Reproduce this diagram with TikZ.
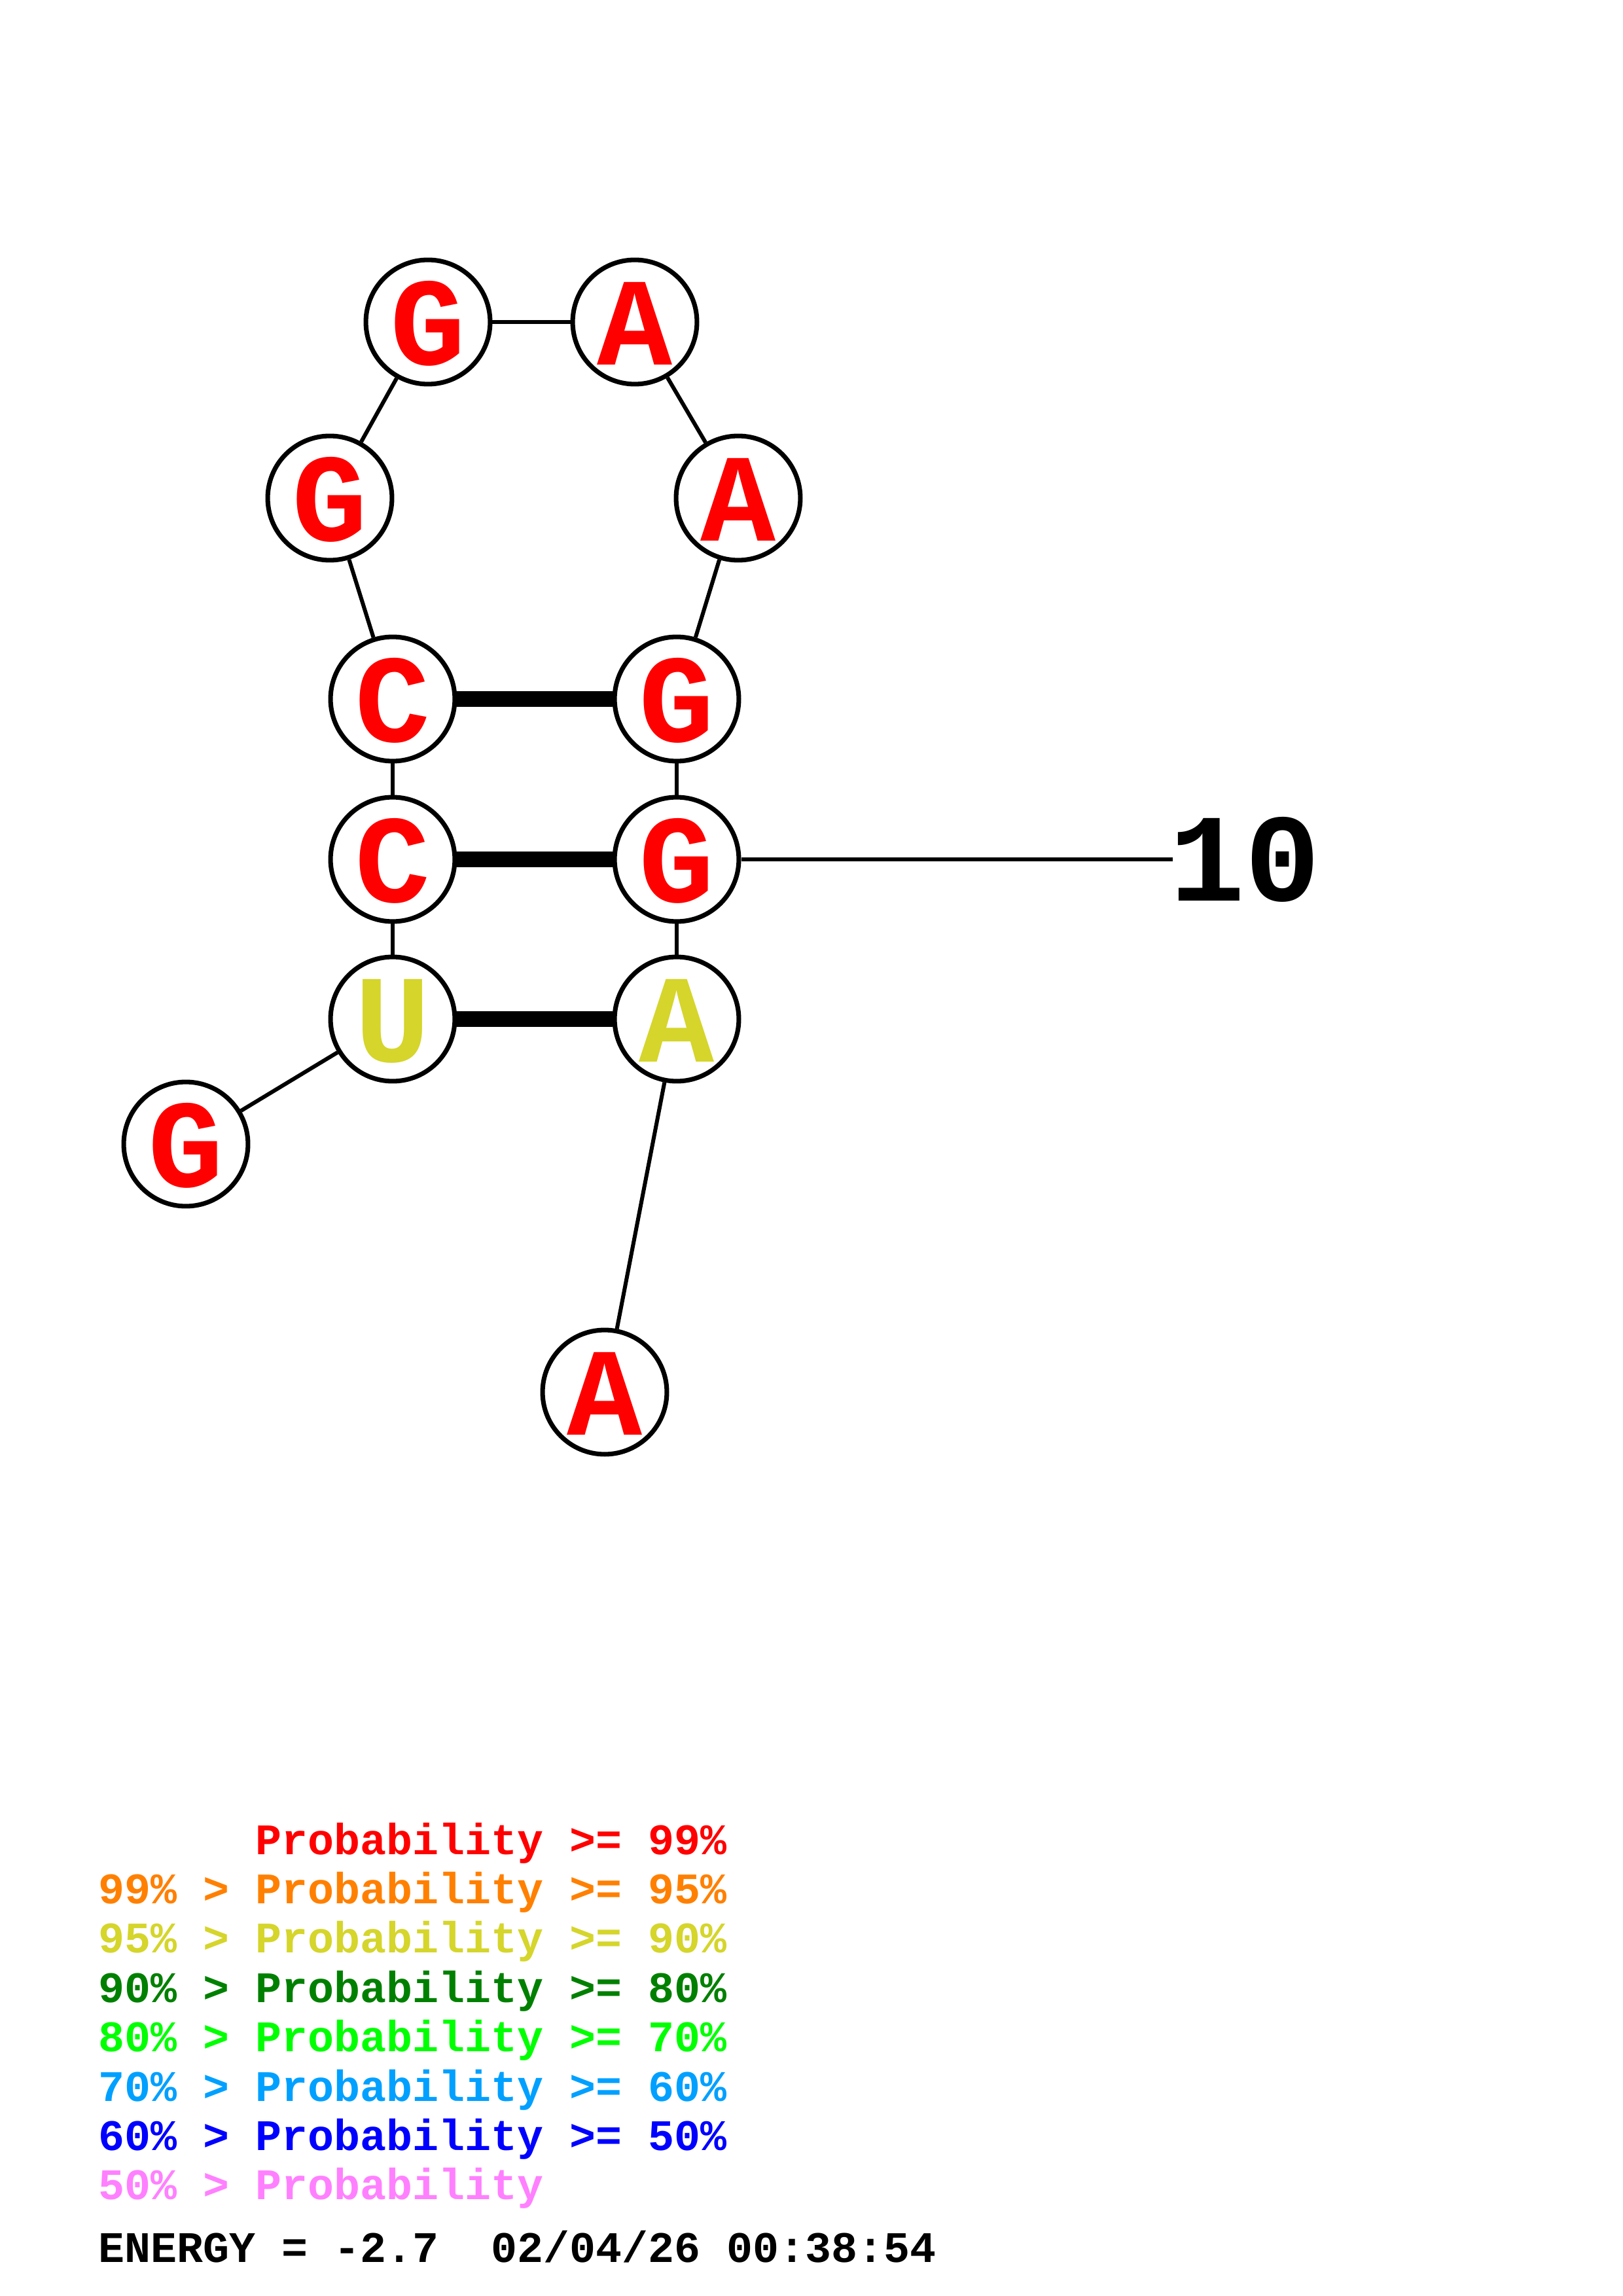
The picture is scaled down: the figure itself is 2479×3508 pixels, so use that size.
\documentclass[tikz,border=0pt]{standalone}
\usepackage{fontspec}
\newfontfamily\cour{Liberation Mono}
\usetikzlibrary{calc}
\definecolor{pred}{RGB}{255,0,0}
\definecolor{porange}{RGB}{255,128,0}
\definecolor{pyellow}{RGB}{213,213,43}
\definecolor{pdgreen}{RGB}{0,128,0}
\definecolor{pgreen}{RGB}{0,255,0}
\definecolor{plblue}{RGB}{0,160,255}
\definecolor{pblue}{RGB}{0,0,255}
\definecolor{ppink}{RGB}{255,128,255}
\tikzset{
  base/.style={circle,draw=black,line width=1.7pt,fill=white,inner sep=0pt,
    minimum size=45.6pt,text height=31.5pt,text depth=0pt,
    font=\cour\bfseries\fontsize{46}{46}\selectfont},
  bb/.style={line width=1.45pt},
  pair/.style={line width=5.6pt},
  legend/.style={anchor=base west,inner sep=0pt,font=\cour\bfseries\fontsize{16}{16}\selectfont},
  numlabel/.style={anchor=base west,inner sep=0pt,font=\cour\bfseries\fontsize{46}{46}\selectfont}
}
\begin{document}
\begin{tikzpicture}[x=0.24014pt,y=-0.24014pt]
\useasboundingbox (0,0) rectangle (2479,3508);
\fill[white] (0,0) rectangle (2479,3508);
% nodes
\node[base,text=pred]    (n1)  at (284,1748)  {G};
\node[base,text=pyellow] (n2)  at (600,1557)  {U};
\node[base,text=pred]    (n3)  at (600,1313)  {C};
\node[base,text=pred]    (n4)  at (600,1068)  {C};
\node[base,text=pred]    (n5)  at (504,761)   {G};
\node[base,text=pred]    (n6)  at (654,492)   {G};
\node[base,text=pred]    (n7)  at (970,492)   {A};
\node[base,text=pred]    (n8)  at (1128,761)  {A};
\node[base,text=pred]    (n9)  at (1034,1068) {G};
\node[base,text=pred]    (n10) at (1034,1313) {G};
\node[base,text=pyellow] (n11) at (1034,1557) {A};
\node[base,text=pred]    (n12) at (924,2127)  {A};
% backbone
\draw[bb] (n1) -- (n2);
\draw[bb] (n2) -- (n3);
\draw[bb] (n3) -- (n4);
\draw[bb] (n4) -- (n5);
\draw[bb] (n5) -- (n6);
\draw[bb] (n6) -- (n7);
\draw[bb] (n7) -- (n8);
\draw[bb] (n8) -- (n9);
\draw[bb] (n9) -- (n10);
\draw[bb] (n10) -- (n11);
\draw[bb] (n11) -- (n12);
% pairs
\draw[pair] (n2) -- (n11);
\draw[pair] (n3) -- (n10);
\draw[pair] (n4) -- (n9);
% number label
\coordinate (t10) at (1792,1313);
\draw[bb] (n10) -- (t10);
\node[numlabel] (lab10) at (1787,1376) {10};
% legend
\node[legend,text=pred]    (l1) at (150,2833) {\phantom{99\%~>~}Probability~>=~99\%};
\node[legend,text=porange] (l2) at (150,2908) {99\%~>~Probability~>=~95\%};
\node[legend,text=pyellow] (l3) at (150,2983) {95\%~>~Probability~>=~90\%};
\node[legend,text=pdgreen] (l4) at (150,3059) {90\%~>~Probability~>=~80\%};
\node[legend,text=pgreen]  (l5) at (150,3134) {80\%~>~Probability~>=~70\%};
\node[legend,text=plblue]  (l6) at (150,3210) {70\%~>~Probability~>=~60\%};
\node[legend,text=pblue]   (l7) at (150,3285) {60\%~>~Probability~>=~50\%};
\node[legend,text=ppink]   (l8) at (150,3360) {50\%~>~Probability};
\node[legend,text=black]   (en) at (150,3456) {ENERGY~=~-2.7~~02/04/26~00:38:54};
\end{tikzpicture}
\end{document}
